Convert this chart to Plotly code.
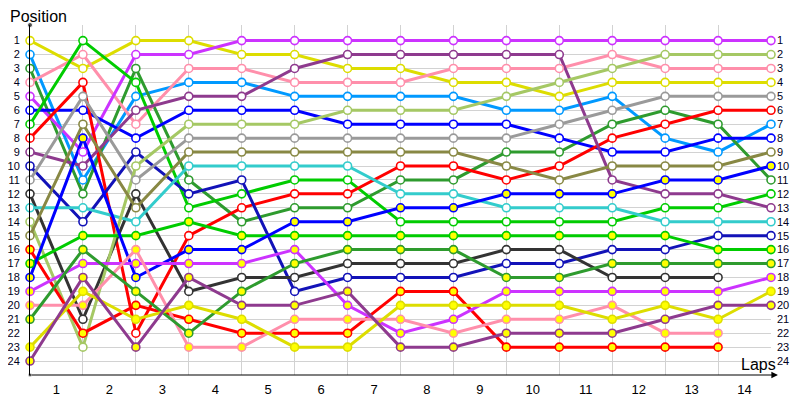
import plotly.graph_objects as go

# ---- data -----------------------------------------------------------------
laps = list(range(0, 15))                      # 0 = start grid, 1..14 = laps
lap_labels = [str(i) for i in range(1, 15)]
lap_label_pos = [i + 0.5 for i in range(0, 14)]
position_ticks = list(range(1, 25))

driver_names = [
    "Yellow A", "Light blue", "Dark green A", "Pink A", "Magenta A", "Blue A",
    "Green A", "Red A", "Purple A", "Dark blue", "Light gray", "Dark gray",
    "Cyan", "Light green", "Olive", "Red B", "Green B", "Blue B", "Magenta B",
    "Pink B", "Dark green B", "Yellow B", "Purple B",
]

yellow_a      = [1, 3, 1, 1, 2, 2, 3, 3, 4, 4, 5, 4, 4, 4, 4]
light_blue    = [2, 11, 5, 4, 4, 5, 5, 5, 5, 6, 6, 5, 8, 9, 7]
dark_green_a  = [3, 12, 3, 11, 14, 13, 13, 11, 11, 9, 9, 7, 6, 7, 11]
pink_a        = [4, 2, 7, 3, 3, 4, 4, 4, 3, 3, 3, 2, 3, 3, 3]
magenta_a     = [5, 9, 2, 2, 1, 1, 1, 1, 1, 1, 1, 1, 1, 1, 1]
blue_a        = [6, 6, 8, 6, 6, 6, 7, 7, 7, 7, 8, 9, 9, 8, 8]
green_a       = [7, 1, 4, 13, 12, 11, 11, 14, 14, 14, 14, 14, 13, 13, 12]
red_a         = [8, 4, 22, 15, 13, 12, 12, 10, 10, 11, 10, 8, 7, 6, 6]
purple_a      = [9, 10, 6, 5, 5, 3, 2, 2, 2, 2, 2, 11, 12, 12, 13]
dark_blue     = [10, 14, 9, 12, 11, 19, 18, 18, 18, 17, 17, 16, 16, 15, 15]
light_gray    = [11, 5, 11, 8, 8, 8, 8, 8, 8, 8, 7, 6, 5, 5, 5]
dark_gray     = [12, 21, 12, 19, 18, 18, 17, 17, 17, 16, 16, 18, 18, 18]
cyan          = [13, 13, 14, 10, 10, 10, 10, 12, 12, 13, 13, 13, 14, 14, 14]
light_green   = [14, 23, 10, 7, 7, 7, 6, 6, 6, 5, 4, 3, 2, 2, 2]
olive         = [15, 7, 13, 9, 9, 9, 9, 9, 9, 10, 11, 10, 10, 10, 9]
red_b         = [16, 22, 20, 21, 22, 22, 22, 19, 19, 23, 23, 23, 23, 23]
green_b       = [17, 15, 15, 14, 15, 15, 15, 15, 15, 15, 15, 15, 15, 16, 16]
blue_b        = [18, 8, 18, 16, 16, 14, 14, 13, 13, 12, 12, 12, 11, 11, 10]
magenta_b     = [19, 17, 17, 17, 17, 16, 20, 22, 21, 19, 19, 19, 19, 19, 18]
pink_b        = [20, 20, 16, 23, 23, 21, 21, 21, 22, 21, 21, 20, 22, 22]
dark_green_b  = [21, 16, 19, 22, 19, 17, 16, 16, 16, 18, 18, 17, 17, 17, 17]
yellow_b      = [23, 19, 21, 20, 21, 23, 23, 20, 20, 20, 20, 21, 20, 21, 19]
purple_b      = [24, 18, 23, 18, 20, 20, 19, 23, 23, 22, 22, 22, 21, 20, 20]

driver_values = [
    yellow_a, light_blue, dark_green_a, pink_a, magenta_a, blue_a, green_a,
    red_a, purple_a, dark_blue, light_gray, dark_gray, cyan, light_green,
    olive, red_b, green_b, blue_b, magenta_b, pink_b, dark_green_b,
    yellow_b, purple_b,
]

# ---- styles ---------------------------------------------------------------
line_colors = [
    "#dddd00", "#0099ff", "#2e9b2e", "#ff8fab", "#cc33ff", "#0000ff",
    "#00cc00", "#ff0000", "#8e3a8e", "#1212b8", "#9a9a9a", "#333333",
    "#33cccc", "#a5c864", "#888844", "#ff0000", "#00cc00", "#0000ff",
    "#cc33ff", "#ff8fab", "#2e9b2e", "#dddd00", "#8e3a8e",
]
second_driver = [False] * 15 + [True] * 8
FONT = "Liberation Sans, Arial, sans-serif"
GRID = "#d2d2d2"

fig = go.Figure()

# lines first
for name, vals, col in zip(driver_names, driver_values, line_colors):
    fig.add_trace(go.Scatter(
        x=laps[:len(vals)], y=vals, mode="lines", name=name,
        line=dict(color=col, width=3), hoverinfo="skip", showlegend=False,
    ))
# markers on top
for name, vals, col, second in zip(driver_names, driver_values, line_colors, second_driver):
    fig.add_trace(go.Scatter(
        x=laps[:len(vals)], y=vals, mode="markers", name=name,
        marker=dict(size=8, color="#ffff00" if second else "#ffffff",
                    line=dict(color=col, width=1.6)),
        cliponaxis=False, showlegend=False,
    ))

# axis end dots
fig.add_trace(go.Scatter(x=[0, 0], y=[-0.12, 25], mode="markers",
                         marker=dict(size=[5, 4], color="black"),
                         cliponaxis=False, showlegend=False, hoverinfo="skip"))
# dummy trace to activate right axis
fig.add_trace(go.Scatter(x=[0], y=[1], yaxis="y2", mode="markers",
                         marker=dict(opacity=0), showlegend=False, hoverinfo="skip"))

# page has an 8px body margin: figure sized 792x392 so it fills the window
fig.update_layout(
    width=792, height=392, autosize=False,
    margin=dict(l=22, r=29, t=17, b=25, autoexpand=False),
    paper_bgcolor="white", plot_bgcolor="white",
    font=dict(family=FONT, color="black"),
    xaxis=dict(
        range=[0, 14], tickmode="array", tickvals=lap_label_pos, ticktext=lap_labels,
        showgrid=False, zeroline=False, showline=False, ticks="", automargin=False,
        tickfont=dict(size=13, family=FONT, color="#000000"),
        ticklabelstandoff=5,
        minor=dict(tickmode="array", tickvals=laps, showgrid=True,
                   gridcolor=GRID, gridwidth=1, ticks=""),
    ),
    yaxis=dict(
        range=[25, -0.12], tickmode="array", tickvals=position_ticks,
        showgrid=True, gridcolor=GRID, gridwidth=1, zeroline=False, automargin=False,
        showline=True, linecolor="black", linewidth=1, ticks="",
        tickfont=dict(size=11, family=FONT, color="#000020"),
        ticklabelstandoff=7,
    ),
    yaxis2=dict(
        overlaying="y", side="right", anchor="x", automargin=False,
        range=[25, -0.12], tickmode="array", tickvals=position_ticks,
        showgrid=False, zeroline=False, showline=False, ticks="",
        tickfont=dict(size=11, family=FONT, color="#000020"),
        ticklabelstandoff=5,
    ),
    annotations=[
        dict(xref="paper", yref="paper", x=1.0094, y=0, ax=-748, ay=0,
             showarrow=True, arrowhead=2, arrowsize=1.1, arrowwidth=1.2,
             arrowcolor="black", text=""),
        dict(xref="paper", yref="paper", x=-0.0297, y=1.0243, xanchor="left",
             yanchor="middle", text="Position", showarrow=False,
             font=dict(size=16, family=FONT, color="black")),
        dict(xref="paper", yref="paper", x=0.9825, y=0.031, xanchor="center",
             yanchor="middle", text="Laps", showarrow=False,
             font=dict(size=16, family=FONT, color="black")),
    ],
)

fig.write_html("out.html")
